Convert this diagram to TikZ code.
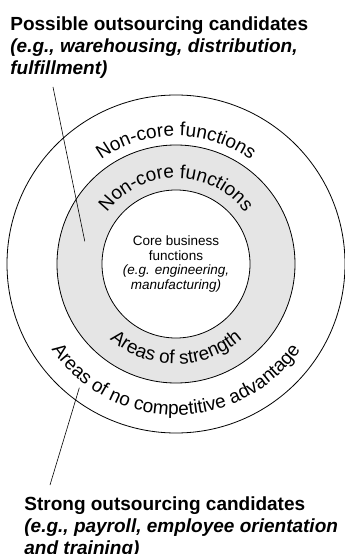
\documentclass[tikz,border=0pt]{standalone}
\usepackage{fontspec}
\setmainfont{Liberation Sans}
\usetikzlibrary{decorations.text}

\tikzset{
  ringtext/.style = {decorate, decoration = {text along path,
      text = {|\fontsize{19}{22}\selectfont|#1}, text align = center}},
  candidates/.style = {align = left, inner sep = 0pt, anchor = north west,
      font = \fontsize{19}{22}\selectfont\bfseries}
}

\begin{document}
\begin{tikzpicture}[x = 1pt, y = 1pt, line width = 0.8pt]
  \useasboundingbox (-176, -290) rectangle (169, 264);
  % rings
  \draw (0, 0) circle (169);
  \draw[fill = gray!20] (0, 0) circle (119);
  \node[draw, fill = white, circle, minimum size = 148pt, inner sep = 0pt,
        align = center, font = \fontsize{13.5}{14.5}\selectfont] (core) at (0, 0)
    {Core business\\functions\\\textit{(e.g. engineering,}\\\textit{manufacturing)}};
  % texts along the rings
  \path[ringtext = Non-core functions] (160:128) arc (160:20:128);
  \path[ringtext = Non-core functions] (165:86) arc (165:15:86);
  \path[ringtext = Areas of strength] (200:100) arc (200:340:100);
  \path[ringtext = Areas of no competitive advantage] (185:151) arc (185:355:151);
  % labels
  \node[candidates] (possible) at (-166, 248)
    {Possible outsourcing candidates\\\textit{(e.g., warehousing, distribution,}\\\textit{fulfillment)}};
  \node[candidates] (strong) at (-152, -232)
    {Strong outsourcing candidates\\\textit{(e.g., payroll, employee orientation}\\\textit{and training)}};
  % leaders
  \coordinate (possible end) at (166:94);
  \coordinate (possible start) at (-123, 177);
  \coordinate (strong end) at (232:157);
  \coordinate (strong start) at (-126, -221);
  \draw[line width = 0.6pt] (possible start) -- (possible end);
  \draw[line width = 0.6pt] (strong start) -- (strong end);
\end{tikzpicture}
\end{document}
